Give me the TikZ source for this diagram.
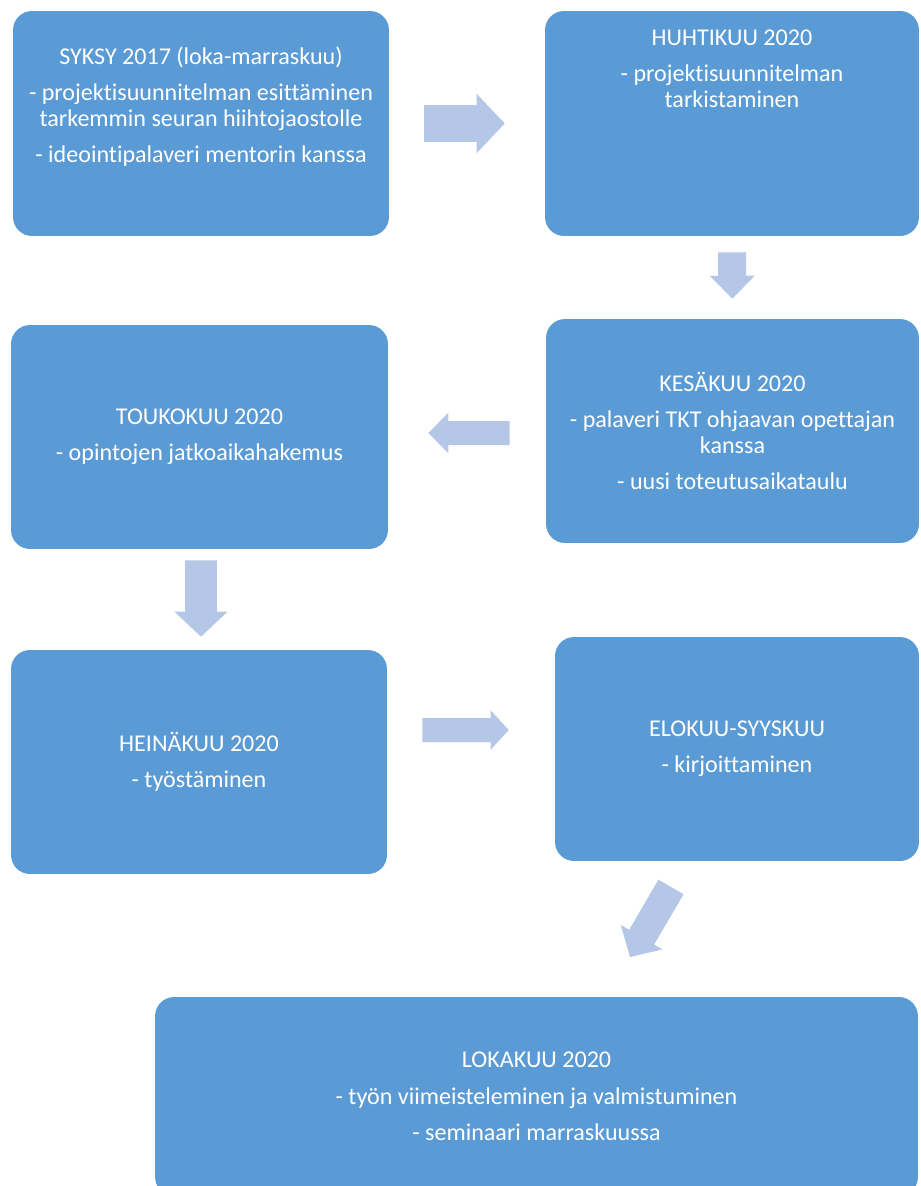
\documentclass[tikz,border=0pt]{standalone}
\usepackage{fontspec}
\setmainfont{Carlito}[Ligatures=NoCommon]
\usepackage{tikz}
\usetikzlibrary{calc,arrows.meta}

\definecolor{boxblue}{HTML}{5B9BD5}
\definecolor{arrowblue}{HTML}{B4C7E7}

\tikzset{
	box/.style={fill=boxblue,rounded corners=0.38cm,inner sep=0pt,minimum height=4.48cm,
		text=white,align=center,font=\fontsize{13.7}{14.8}\selectfont},
	txt/.style={text=white,align=center,inner sep=0pt,font=\fontsize{13.7}{14.8}\selectfont},
	blockarrow/.style={draw=arrowblue,line cap=butt}
}

\begin{document}
\begin{tikzpicture}[x=0.02cm,y=-0.02cm]
	\clip (0,0) rectangle (920,1186);
	\fill[white] (0,0) rectangle (920,1186);
	
	%boxes
	\node[box,minimum width=7.52cm,minimum height=4.5cm] (syksy) at (201,123.5) {};
	\node[box,minimum width=7.48cm,minimum height=4.5cm] (huhti) at (732,123.5) {};
	%
	\node[box,minimum width=7.46cm] (kesa) at (732.5,431) {KES\"AKUU 2020\\[5.7pt]
		- palaveri TKT ohjaavan opettajan\\ kanssa\\[5.7pt]
		- uusi toteutusaikataulu};
	\node[box,minimum width=7.54cm] (touko) at (199.5,437) {TOUKOKUU 2020\\[5.7pt]
		- opintojen jatkoaikahakemus};
	%
	\node[box,minimum width=7.52cm] (heina) at (199,762) {HEIN\"AKUU 2020\\[5.7pt]
		- ty\"ost\"aminen};
	\node[box,minimum width=7.28cm] (elo) at (737,749) {ELOKUU-SYYSKUU\\[5.7pt]
		- kirjoittaminen};
	%
	\node[box,minimum width=15.26cm,minimum height=3.98cm] (loka) at (536.5,1096.5)
		{LOKAKUU 2020\\[6pt]
		- ty\"on viimeisteleminen ja valmistuminen\\[6pt]
		- seminaari marraskuussa};
	
	%inner labels (top aligned)
	\node[txt] (syksytxt) at (201,107) {SYKSY 2017 (loka-marraskuu)\\[5.7pt]
		- projektisuunnitelman esitt\"aminen\\ tarkemmin seuran hiihtojaostolle\\[5.7pt]
		- ideointipalaveri mentorin kanssa};
	\node[txt] (huhtitxt) at (732,69) {HUHTIKUU 2020\\[5.7pt]
		- projektisuunnitelman\\ tarkistaminen};
	
	%arrows
	\draw[blockarrow,line width=0.74cm,shorten <=0.7cm,shorten >=0.8cm,
		-{Triangle[width=1.18cm,length=0.56cm,line width=0.8pt,color=arrowblue]}]
		(syksy.east) -- (huhti.west);
	\draw[blockarrow,line width=0.56cm,shorten <=0.32cm,shorten >=0.4cm,
		-{Triangle[width=0.9cm,length=0.46cm,line width=0.8pt,color=arrowblue]}]
		(huhti.south) -- (kesa.north);
	%
	\draw[blockarrow,line width=0.48cm,shorten <=0.72cm,shorten >=0.8cm,
		-{Triangle[width=0.8cm,length=0.4cm,line width=0.8pt,color=arrowblue]}]
		([yshift=-0.04cm]kesa.west) -- ([yshift=0.08cm]touko.east);
	\draw[blockarrow,line width=0.64cm,shorten <=0.22cm,shorten >=0.26cm,
		-{Triangle[width=1.06cm,length=0.5cm,line width=0.8pt,color=arrowblue]}]
		([xshift=0.03cm]touko.south) -- ([xshift=0.04cm]heina.north);
	%
	\draw[blockarrow,line width=0.48cm,shorten <=0.7cm,shorten >=0.92cm,
		-{Triangle[width=0.78cm,length=0.36cm,line width=0.8pt,color=arrowblue]}]
		([yshift=0.64cm]heina.east) -- ([yshift=0.38cm]elo.west);
	%
	\coordinate (elotail) at (671,887);
	\coordinate (lokatip) at (630,957);
	\draw[blockarrow,line width=0.58cm,
		-{Triangle[width=0.96cm,length=0.46cm,line width=0.8pt,color=arrowblue]}]
		(elotail) -- (lokatip);
\end{tikzpicture}
\end{document}
